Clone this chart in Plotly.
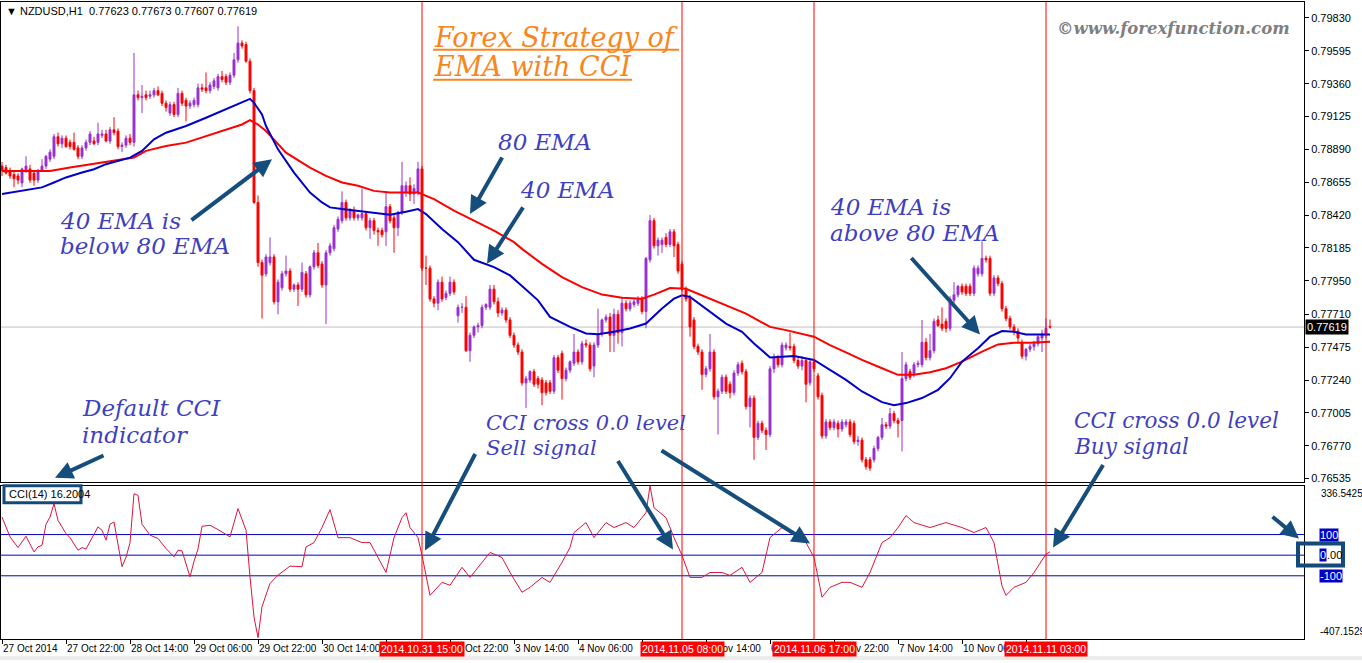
import plotly.graph_objects as go

W, H = 1362, 663

# ---------------- data ----------------
symbol = "NZDUSD,H1"

bar_open = [
 .7877,.7876,.7874,.7871,.7870,.7865,.7874,.7875,.7872,.7867,.7874,.7877,.7882,.7884,.7898,.7893,.7897,.7894,.7894,.7890,
 .7884,.7890,.7894,.7895,.7894,.7899,.7900,.7895,.7903,.7902,.7891,.7892,.7897,.7894,.7928,.7926,.7928,.7927,.7928,.7931,
 .7929,.7922,.7915,.7921,.7914,.7929,.7924,.7920,.7921,.7921,.7933,.7933,.7931,.7934,.7933,.7941,.7941,.7937,.7942,.7953,
 .7965,.7964,.7952,.7931,.7851,.7808,.7800,.7808,.7812,.7780,.7790,.7800,.7802,.7789,.7792,.7789,.7800,.7785,.7805,.7815,
 .7807,.7792,.7815,.7818,.7832,.7838,.7851,.7840,.7845,.7840,.7840,.7843,.7833,.7838,.7831,.7831,.7830,.7848,.7840,.7833,
 .7844,.7858,.7863,.7857,.7858,.7875,.7804,.7804,.7782,.7779,.7794,.7783,.7786,.7794,.7770,.7776,.7776,.7745,.7756,.7762,
 .7763,.7776,.7776,.7789,.7780,.7772,.7774,.7767,.7756,.7749,.7744,.7722,.7724,.7730,.7725,.7724,.7722,.7722,.7716,.7740,
 .7743,.7725,.7731,.7736,.7744,.7737,.7750,.7749,.7734,.7749,.7757,.7767,.7769,.7756,.7771,.7758,.7779,.7775,.7778,.7779,
 .7782,.7773,.7810,.7838,.7820,.7821,.7826,.7821,.7830,.7821,.7807,.7789,.7783,.7767,.7748,.7744,.7728,.7732,.7744,.7712,
 .7716,.7726,.7721,.7715,.7729,.7736,.7730,.7705,.7711,.7683,.7693,.7688,.7685,.7732,.7740,.7735,.7747,.7748,.7748,.7738,
 .7734,.7738,.7722,.7737,.7727,.7713,.7684,.7694,.7690,.7693,.7689,.7692,.7694,.7693,.7680,.7681,.7667,.7667,.7667,.7675,
 .7683,.7692,.7691,.7700,.7695,.7695,.7725,.7730,.7728,.7735,.7735,.7751,.7740,.7745,.7767,.7764,.7766,.7761,.7781,.7785,
 .7791,.7791,.7791,.7786,.7800,.7800,.7811,.7811,.7786,.7797,.7793,.7775,.7768,.7762,.7759,.7751,.7741,.7746,.7748,.7750,
 .7754,.7756,.77623]
bar_high = [
 .7880,.7878,.7876,.7873,.7872,.7876,.7884,.7878,.7874,.7875,.7882,.7885,.7889,.7900,.7901,.7899,.7899,.7896,.7901,.7892,
 .7892,.7896,.7902,.7898,.7908,.7903,.7903,.7905,.7912,.7904,.7894,.7899,.7900,.7958,.7931,.7935,.7931,.7931,.7933,.7934,
 .7931,.7924,.7923,.7923,.7933,.7931,.7926,.7924,.7926,.7936,.7936,.7944,.7937,.7940,.7943,.7945,.7943,.7944,.7958,.7977,
 .7967,.7966,.7954,.7933,.7856,.7810,.7814,.7826,.7814,.7796,.7802,.7813,.7804,.7793,.7794,.7808,.7802,.7806,.7817,.7822,
 .7809,.7817,.7822,.7835,.7841,.7859,.7853,.7847,.7848,.7843,.7861,.7845,.7840,.7840,.7833,.7833,.7859,.7850,.7842,.7845,
 .7880,.7866,.7869,.7864,.7880,.7877,.7813,.7806,.7784,.7796,.7798,.7788,.7798,.7796,.7778,.7779,.7784,.7758,.7763,.7765,
 .7778,.7779,.7792,.7792,.7783,.7776,.7776,.7769,.7758,.7751,.7746,.7727,.7731,.7732,.7727,.7726,.7724,.7724,.7742,.7742,
 .7745,.7733,.7738,.7757,.7746,.7752,.7753,.7751,.7751,.7775,.7768,.7771,.7772,.7775,.7774,.7783,.7781,.7781,.7782,.7784,
 .7784,.7812,.7842,.7840,.7826,.7826,.7829,.7832,.7832,.7823,.7809,.7791,.7785,.7769,.7750,.7746,.7734,.7757,.7746,.7718,
 .7728,.7728,.7723,.7731,.7737,.7738,.7732,.7713,.7713,.7695,.7695,.7690,.7734,.7743,.7742,.7751,.7751,.7758,.7750,.7740,
 .7741,.7740,.7739,.7739,.7729,.7715,.7696,.7696,.7696,.7695,.7696,.7696,.7696,.7695,.7684,.7683,.7669,.7669,.7677,.7684,
 .7697,.7694,.7704,.7702,.7697,.7744,.7737,.7732,.7737,.7738,.7767,.7754,.7757,.7768,.7770,.7776,.7768,.7784,.7794,.7792,
 .7793,.7793,.7793,.7806,.7806,.7823,.7813,.7813,.7799,.7799,.7795,.7777,.7770,.7764,.7761,.7753,.7747,.7750,.7752,.7757,
 .7760,.7768,.77673]
bar_low = [
 .7870,.7871,.7868,.7862,.7864,.7862,.7872,.7865,.7863,.7865,.7873,.7875,.7880,.7882,.7891,.7890,.7890,.7889,.7888,.7882,
 .7882,.7888,.7892,.7892,.7892,.7897,.7894,.7893,.7899,.7889,.7887,.7890,.7892,.7891,.7924,.7915,.7924,.7925,.7926,.7927,
 .7920,.7916,.7913,.7912,.7912,.7920,.7909,.7918,.7919,.7919,.7930,.7929,.7929,.7932,.7931,.7937,.7935,.7935,.7940,.7951,
 .7961,.7951,.7929,.7850,.7805,.7768,.7798,.7806,.7778,.7771,.7788,.7798,.7787,.7787,.7777,.7787,.7783,.7783,.7803,.7804,
 .7790,.7764,.7813,.7816,.7830,.7836,.7838,.7838,.7838,.7838,.7838,.7831,.7825,.7828,.7820,.7826,.7820,.7836,.7815,.7827,
 .7842,.7855,.7852,.7850,.7856,.7802,.7792,.7780,.7776,.7774,.7780,.7781,.7784,.7785,.7765,.7772,.7744,.7737,.7754,.7758,
 .7761,.7774,.7774,.7778,.7769,.7770,.7765,.7754,.7747,.7742,.7720,.7704,.7722,.7719,.7718,.7706,.7713,.7714,.7714,.7729,
 .7710,.7723,.7729,.7734,.7735,.7735,.7747,.7730,.7726,.7747,.7755,.7765,.7744,.7744,.7750,.7748,.7773,.7773,.7776,.7777,
 .7771,.7761,.7808,.7818,.7813,.7815,.7819,.7819,.7812,.7800,.7787,.7780,.7755,.7746,.7742,.7717,.7726,.7730,.7710,.7685,
 .7714,.7714,.7711,.7713,.7727,.7728,.7703,.7690,.7667,.7681,.7686,.7674,.7683,.7729,.7733,.7733,.7745,.7745,.7736,.7732,
 .7731,.7708,.7720,.7730,.7710,.7682,.7682,.7688,.7688,.7683,.7687,.7690,.7683,.7678,.7677,.7665,.7660,.7659,.7665,.7673,
 .7681,.7689,.7689,.7693,.7683,.7673,.7723,.7724,.7726,.7733,.7733,.7738,.7738,.7743,.7762,.7759,.7758,.7759,.7779,.7783,
 .7785,.7784,.7784,.7784,.7798,.7798,.7808,.7784,.7784,.7791,.7773,.7766,.7760,.7756,.7751,.7739,.7738,.7744,.7745,.7748,
 .7744,.7754,.77607]
bar_close = [
 .7874,.7872,.7870,.7868,.7867,.7875,.7877,.7867,.7867,.7874,.7877,.7884,.7887,.7898,.7893,.7897,.7891,.7891,.7889,.7884,
 .7890,.7894,.7900,.7893,.7900,.7900,.7895,.7903,.7901,.7891,.7892,.7897,.7894,.7928,.7926,.7927,.7926,.7928,.7931,.7928,
 .7922,.7919,.7921,.7914,.7929,.7922,.7920,.7922,.7924,.7933,.7932,.7931,.7935,.7938,.7941,.7939,.7937,.7942,.7953,.7965,
 .7963,.7952,.7931,.7851,.7808,.7799,.7812,.7812,.7780,.7794,.7800,.7802,.7789,.7792,.7789,.7801,.7785,.7805,.7815,.7806,
 .7792,.7815,.7820,.7833,.7839,.7851,.7840,.7845,.7840,.7842,.7843,.7833,.7838,.7831,.7830,.7828,.7848,.7838,.7833,.7844,
 .7863,.7863,.7857,.7861,.7875,.7804,.7804,.7782,.7779,.7794,.7782,.7786,.7794,.7787,.7776,.7776,.7745,.7756,.7762,.7763,
 .7776,.7778,.7789,.7780,.7772,.7774,.7767,.7756,.7749,.7744,.7722,.7725,.7730,.7721,.7721,.7715,.7715,.7716,.7740,.7731,
 .7725,.7731,.7737,.7744,.7737,.7750,.7749,.7732,.7749,.7757,.7767,.7769,.7756,.7771,.7758,.7779,.7775,.7779,.7780,.7782,
 .7773,.7811,.7838,.7820,.7824,.7824,.7821,.7830,.7820,.7802,.7789,.7782,.7762,.7748,.7744,.7728,.7732,.7744,.7712,.7716,
 .7726,.7716,.7715,.7729,.7735,.7730,.7705,.7711,.7683,.7693,.7688,.7685,.7732,.7740,.7735,.7749,.7749,.7747,.7738,.7734,
 .7738,.7721,.7737,.7732,.7712,.7684,.7694,.7690,.7694,.7689,.7694,.7694,.7685,.7680,.7681,.7667,.7662,.7661,.7675,.7683,
 .7692,.7691,.7700,.7695,.7693,.7725,.7735,.7726,.7735,.7736,.7751,.7740,.7745,.7766,.7763,.7761,.7761,.7782,.7785,.7791,
 .7787,.7786,.7786,.7804,.7804,.7811,.7810,.7786,.7797,.7793,.7775,.7768,.7762,.7759,.7754,.7741,.7746,.7748,.7750,.7755,
 .7757,.7761,.77619]

ema40_bar = [0, 10, 13, 16, 20, 23, 26, 30, 32, 35, 38, 41, 46, 51, 56, 60, 62, 63, 65, 66, 69, 73, 77, 80, 82, 85,
             89, 93, 97, 101, 104, 106, 110, 114, 118, 123, 127, 130, 134, 137, 142, 146, 149, 153, 157, 161, 165,
             168, 170, 172, 176, 181, 185, 188, 192, 195, 198, 203, 207, 211, 215, 220, 223, 226, 230, 234, 237,
             240, 244, 247, 250, 253, 256, 262]
ema40_val = [.78570, .78618, .78653, .78689, .78724, .78748, .78784, .78819, .78831, .78879, .78962, .79009, .79057,
             .79116, .79175, .79223, .79251, .79223, .79140, .79057, .78890, .78724, .78581, .78510, .78475, .78463,
             .78451, .78439, .78423, .78444, .78463, .78427, .78320, .78226, .78100, .78048, .77988, .77912, .77810,
             .77692, .77620, .77573, .77568, .77585, .77609, .77644, .77751, .77822, .77846, .77834, .77751, .77644,
             .77585, .77502, .77402, .77407, .77412, .77384, .77312, .77241, .77158, .77082, .77059, .77075, .77111,
             .77170, .77253, .77372, .77467, .77550, .77590, .77585, .77566, .77566]
ema80_bar = [0, 12, 17, 25, 31, 33, 36, 41, 46, 51, 56, 60, 62, 64, 66, 71, 77, 81, 85, 89, 93, 97, 104, 108, 113,
             118, 123, 128, 130, 135, 140, 145, 150, 155, 160, 163, 167, 171, 176, 181, 186, 192, 196, 203, 207, 211,
             215, 220, 224, 228, 232, 236, 240, 245, 249, 253, 257, 262]
ema80_val = [.78736, .78736, .78760, .78796, .78819, .78831, .78879, .78914, .78938, .78985, .79033, .79068, .79099,
             .79068, .79021, .78866, .78759, .78700, .78653, .78629, .78593, .78581, .78581, .78534, .78451, .78380,
             .78309, .78226, .78178, .78071, .77976, .77905, .77851, .77829, .77822, .77851, .77898, .77893, .77834,
             .77775, .77715, .77620, .77597, .77550, .77490, .77438, .77384, .77324, .77277, .77277, .77296, .77324,
             .77372, .77443, .77495, .77507, .77507, .77514]

cci_bar = [0, 2, 4, 6, 8, 9, 10, 11, 12, 13, 14, 16, 17, 19, 20, 21, 24, 25, 26, 27, 28, 30, 31, 32, 33, 34, 35, 37,
           39, 41, 43, 44, 45, 46, 47, 48, 49, 50, 52, 54, 57, 59, 61, 62, 63, 64, 65, 67, 69, 72, 75, 76, 78, 80,
           82, 84, 87, 90, 92, 94, 96, 98, 100, 101, 102, 104, 105, 107, 110, 112, 115, 117, 120, 122, 125, 127,
           130, 132, 135, 137, 140, 142, 143, 146, 148, 151, 153, 156, 158, 161, 162, 163, 166, 168, 170, 172, 175,
           177, 180, 182, 185, 187, 190, 192, 195, 197, 200, 201, 203, 205, 207, 210, 212, 215, 217, 220, 222, 224,
           226, 228, 232, 236, 240, 243, 246, 248, 250, 251, 253, 256, 258, 260, 261, 262]
cci_val = [185, 89, 37, 92, 16, 40, 48, 150, 185, 250, 169, 105, 85, 24, 37, 30, 137, 121, 73, 150, 161, -56, -10, 60,
           298, 290, 150, 97, 81, 32, -8, 24, 21, -40, -105, -30, 30, 140, 145, 124, 89, 226, 121, -105, -300, -400,
           -250, -137, -97, -53, -56, 40, 61, 134, 221, 85, 85, 61, 61, -11, -84, 85, 182, 206, 134, 85, -1, -195,
           -132, -146, -59, -108, -35, 13, -11, -84, -180, -156, -108, -132, -35, 37, 110, 158, 85, 158, 134, 158,
           134, 206, 336, 230, 182, 85, -1, -108, -108, -84, -84, -98, -59, -132, -84, 85, 134, 110, 85, 61, -11,
           -204, -156, -132, -132, -156, -84, 61, 85, 134, 192, 158, 134, 158, 134, 110, 134, 61, -150, -195, -156,
           -132, -84, -20, 5, 16.2004]
cci_period = 14
cci_levels = [100, 0, -100]
cci_top, cci_bottom = 336.5425, -407.1529

tick_bars = [0, 16, 32, 48, 64, 80, 96, 112, 128, 144, 160, 176, 192, 208, 224, 240, 256]
tick_text = ["27 Oct 2014", "27 Oct 22:00", "28 Oct 14:00", "29 Oct 06:00", "29 Oct 22:00", "30 Oct 14:00",
             "", "31 Oct 22:00", "3 Nov 14:00", "4 Nov 06:00", "", "5 Nov 14:00",
             "6 Nov 06:00", "6 Nov 22:00", "7 Nov 14:00", "10 Nov 06:00", ""]
signal_bars = [105, 170, 203, 261]
signal_text = ["2014.10.31 15:00", "2014.11.05 08:00", "2014.11.06 17:00", "2014.11.11 03:00"]

price_ticks = [0.79830, 0.79595, 0.79360, 0.79125, 0.78890, 0.78655, 0.78420, 0.78185, 0.77950, 0.77710,
               0.77475, 0.77240, 0.77005, 0.76770, 0.76535]
price_tick_text = ["0.79830", "0.79595", "0.79360", "0.79125", "0.78890", "0.78655", "0.78420", "0.78185",
                   "0.77950", "0.77710", "0.77475", "0.77240", "0.77005", "0.76770", "0.76535"]

# ---------------- helpers for pixel placement of decorations ----------------
def px(x):
    return x / W


def py(y):
    return 1 - y / H


SANS = "Liberation Sans, Arial, sans-serif"
AX_FONT = dict(family=SANS, size=11, color="black")
TIME_FONT = dict(family=SANS, size=10, color="black")
NOTE_BLUE = "#3f3fc0"
ARROW_BLUE = "#154d7d"
PURPLE = "#9932cc"
LEVEL_BLUE = "#0000c8"

bars = list(range(len(bar_close)))

fig = go.Figure()

fig.add_trace(go.Candlestick(
    x=bars, open=bar_open, high=bar_high, low=bar_low, close=bar_close,
    xaxis="x2", yaxis="y",
    increasing=dict(line=dict(color=PURPLE, width=1), fillcolor=PURPLE),
    decreasing=dict(line=dict(color="#ff0000", width=1), fillcolor="#ff0000"),
    whiskerwidth=0, showlegend=False, name=symbol))

fig.add_trace(go.Scatter(x=ema80_bar, y=ema80_val, mode="lines", xaxis="x2", yaxis="y",
                         line=dict(color="#ff0000", width=2), showlegend=False, name="EMA 80"))
fig.add_trace(go.Scatter(x=ema40_bar, y=ema40_val, mode="lines", xaxis="x2", yaxis="y",
                         line=dict(color=LEVEL_BLUE, width=2), showlegend=False, name="EMA 40"))

fig.add_trace(go.Scatter(x=cci_bar, y=cci_val, mode="lines", xaxis="x", yaxis="y2",
                         line=dict(color="#dc143c", width=1), showlegend=False, name="CCI"))

xr = [-0.25, (1304 - 2) / 4]
fig.update_layout(
    width=W, height=H, margin=dict(l=0, r=0, t=0, b=0),
    paper_bgcolor="white", plot_bgcolor="white", showlegend=False,
    xaxis=dict(domain=[px(1), px(1304)], range=xr, anchor="y2", showgrid=False, zeroline=False,
               showline=True, linecolor="black", linewidth=1, mirror=True, tickangle=0,
               ticks="outside", ticklen=4, tickcolor="black", tickvals=tick_bars, ticktext=tick_text,
               ticklabelposition="outside right", tickfont=TIME_FONT, rangeslider=dict(visible=False)),
    xaxis2=dict(domain=[px(1), px(1304)], range=xr, anchor="y", matches="x", showgrid=False, zeroline=False,
                showline=True, linecolor="black", linewidth=1, mirror=True, showticklabels=False, ticks="",
                rangeslider=dict(visible=False)),
    yaxis=dict(domain=[py(484), py(2)], range=[0.76512, 0.79944], side="right", anchor="x2",
               showgrid=False, zeroline=False, showline=True, linecolor="black", linewidth=1, mirror=True,
               ticks="outside", ticklen=4, tickcolor="black", tickvals=price_ticks, ticktext=price_tick_text,
               tickfont=AX_FONT),
    yaxis2=dict(domain=[py(642), py(488)], range=[cci_bottom, cci_top], side="right", anchor="x",
                showgrid=False, zeroline=False, showline=True, linecolor="black", linewidth=1, mirror=True,
                showticklabels=False, ticks=""),
)

shapes = []
# CCI level lines
for lv in cci_levels:
    shapes.append(dict(type="line", xref="x domain", yref="y2", x0=0, x1=1, y0=lv, y1=lv,
                       line=dict(color=LEVEL_BLUE, width=1), layer="below"))
# bid line
shapes.append(dict(type="line", xref="x2 domain", yref="y", x0=0, x1=1, y0=bar_close[-1], y1=bar_close[-1],
                   line=dict(color="#c0c0c0", width=1), layer="below"))
# signal vertical lines
for b in signal_bars:
    shapes.append(dict(type="line", xref="x", yref="paper", x0=b, x1=b, y0=py(642), y1=py(2),
                       line=dict(color="#ff0000", width=1)))
# title underlines
shapes.append(dict(type="line", xref="paper", yref="paper", x0=px(433), x1=px(679), y0=py(50), y1=py(50),
                   line=dict(color="#f7861e", width=2)))
shapes.append(dict(type="line", xref="paper", yref="paper", x0=px(433), x1=px(632), y0=py(80), y1=py(80),
                   line=dict(color="#f7861e", width=2)))
# highlight boxes
shapes.append(dict(type="rect", xref="paper", yref="paper", x0=px(4), x1=px(81), y0=py(505), y1=py(488),
                   line=dict(color="#134a7a", width=3)))
shapes.append(dict(type="rect", xref="paper", yref="paper", x0=px(1298), x1=px(1343), y0=py(568), y1=py(546),
                   line=dict(color="#134a7a", width=4)))
# bottom window strip
shapes.append(dict(type="rect", xref="paper", yref="paper", x0=0, x1=1, y0=0, y1=py(659),
                   line=dict(width=0), fillcolor="#ececec"))
fig.update_layout(shapes=shapes)

ann = []


def text_at(x, y, s, size, color, family, anchor="left"):
    ann.append(dict(xref="paper", yref="paper", x=px(x), y=py(y), text=s, showarrow=False,
                    xanchor=anchor, yanchor="middle", font=dict(family=family, size=size, color=color)))


def arrow(tx, ty, hx, hy):
    ann.append(dict(xref="paper", yref="paper", x=px(hx), y=py(hy), ax=tx - hx, ay=ty - hy,
                    axref="pixel", ayref="pixel", text="", showarrow=True, arrowhead=2, arrowsize=0.9,
                    arrowwidth=4, arrowcolor=ARROW_BLUE, standoff=0, startstandoff=0))


# header
text_at(4, 11, "▼ " + symbol + "  " + " ".join(f"{v:.5f}" for v in
        (bar_open[-1], bar_high[-1], bar_low[-1], bar_close[-1])), 11, "black", SANS)
# CCI label
text_at(7, 496, f"CCI({cci_period}) {cci_val[-1]:.4f}", 11, "black", SANS)

# title & watermark
SERIF = "DejaVu Serif, serif"
text_at(432, 38, "<i>Forex Strategy of</i>", 27, "#f7861e", SERIF)
text_at(432, 67, "<i>EMA with CCI</i>", 27, "#f7861e", SERIF)
text_at(1055, 29, "<b><i>©www.forexfunction.com</i></b>", 16.5, "#7f7f7f", SERIF)

# notes
text_at(58, 222, "<i>40 EMA is</i>", 23, NOTE_BLUE, SERIF)
text_at(58, 247, "<i>below 80 EMA</i>", 23, NOTE_BLUE, SERIF)
text_at(496, 143, "<i>80 EMA</i>", 23, NOTE_BLUE, SERIF)
text_at(518, 191, "<i>40 EMA</i>", 23, NOTE_BLUE, SERIF)
text_at(828, 208, "<i>40 EMA is</i>", 23, NOTE_BLUE, SERIF)
text_at(828, 234, "<i>above 80 EMA</i>", 23, NOTE_BLUE, SERIF)
text_at(80, 410, "<i>Default CCI</i>", 23, NOTE_BLUE, SERIF)
text_at(80, 437, "<i>indicator</i>", 23, NOTE_BLUE, SERIF)
text_at(484, 425, "<i>CCI cross 0.0 level</i>", 21, NOTE_BLUE, SERIF)
text_at(484, 450, "<i>Sell signal</i>", 21, NOTE_BLUE, SERIF)
text_at(1072, 422, "<i>CCI cross 0.0 level</i>", 21.5, NOTE_BLUE, SERIF)
text_at(1072, 449, "<i>Buy signal</i>", 21.5, NOTE_BLUE, SERIF)

# arrows
arrow(190, 222, 272, 160)
arrow(503, 157, 470, 215)
arrow(524, 207, 487, 265)
arrow(910, 258, 980, 336)
arrow(105, 457, 55, 480)
arrow(476, 455, 425, 553)
arrow(617, 462, 673, 552)
arrow(660, 452, 810, 546)
arrow(1104, 466, 1053, 550)
arrow(1271, 518, 1299, 541)

# signal time labels on the time axis
for b, s in zip(signal_bars, signal_text):
    ann.append(dict(xref="x", yref="paper", x=b, y=py(652), text=s, showarrow=False, xanchor="center",
                    yanchor="middle", bgcolor="#ff0000", borderpad=1,
                    font=dict(family=SANS, size=10.5, color="white")))

# bid price label
ann.append(dict(xref="paper", yref="y", x=px(1305), y=bar_close[-1], text=f"{bar_close[-1]:.5f}",
                showarrow=False, xanchor="left", yanchor="middle", bgcolor="black", borderpad=1,
                font=dict(family=SANS, size=11, color="white")))

# CCI scale labels
ann.append(dict(xref="paper", yref="y2", x=px(1319), y=cci_top, text=f"{cci_top:.4f}", showarrow=False,
                xanchor="left", yanchor="top", font=dict(family=SANS, size=10, color="black")))
ann.append(dict(xref="paper", yref="y2", x=px(1318), y=cci_bottom, text=f"{cci_bottom:.4f}", showarrow=False,
                xanchor="left", yanchor="bottom", font=dict(family=SANS, size=10, color="black")))
for lv in cci_levels:
    if lv == 0:
        lab_a, lab_b = "0", ".00"
        ann.append(dict(xref="paper", yref="y2", x=px(1319), y=lv, text=lab_a, showarrow=False,
                        xanchor="left", yanchor="middle", bgcolor=LEVEL_BLUE, borderpad=0,
                        font=dict(family=SANS, size=11, color="white")))
        ann.append(dict(xref="paper", yref="y2", x=px(1326), y=lv, text=lab_b, showarrow=False,
                        xanchor="left", yanchor="middle", borderpad=0,
                        font=dict(family=SANS, size=11, color="black")))
    else:
        ann.append(dict(xref="paper", yref="y2", x=px(1319), y=lv, text=str(lv), showarrow=False,
                        xanchor="left", yanchor="middle", bgcolor=LEVEL_BLUE, borderpad=0,
                        font=dict(family=SANS, size=11, color="white")))

fig.update_layout(annotations=ann)

fig.write_html("out.html", config={"displayModeBar": False},
               post_script="document.body.style.margin='0px';document.body.style.overflow='hidden';")
